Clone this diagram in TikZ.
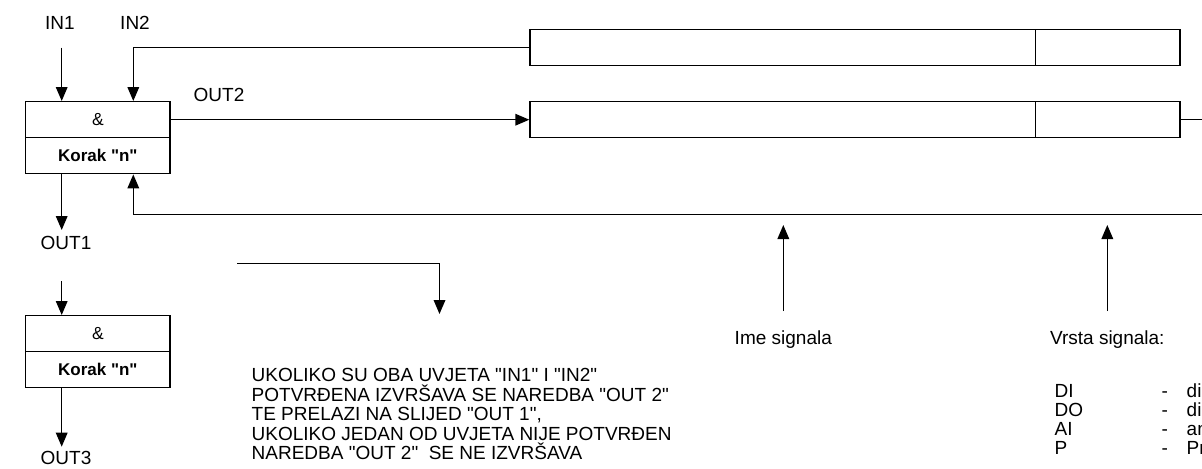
\documentclass[tikz,border=0pt]{standalone}
\usepackage{fontspec}
\setmainfont{Liberation Sans}[Ligatures=TeXOff]
\usetikzlibrary{arrows.meta}
\begin{document}
\begin{tikzpicture}[x=0.5pt, y=-0.5pt, line width=0.7pt,
  tip/.style={-{Triangle[length=7pt,width=5.8pt]}},
  cell/.style={draw, inner sep=0pt, minimum width=72.15pt, minimum height=18pt,
    font=\fontsize{8.75}{10}\selectfont},
  kcell/.style={cell, font=\fontsize{8.5}{10}\selectfont\bfseries},
  namefield/.style={draw, inner sep=0pt, minimum width=252.65pt, minimum height=18pt},
  typefield/.style={draw, inner sep=0pt, minimum width=72.35pt, minimum height=18pt},
  lbl/.style={inner sep=0pt, font=\fontsize{9.5}{11}\selectfont},
  txt/.style={lbl, anchor=base west},
  ctxt/.style={lbl, anchor=base},
]
\useasboundingbox (0,0) rectangle (1202,468);

% step block "n" with its two inputs and output
\node[cell]  (amp1) at (97.85,119.7) {\&};
\node[kcell] (kor1) at (97.85,155.7) {Korak "n"};
\node[lbl] (in1) at (60,23) {IN1};
\node[lbl] (in2) at (135,23) {IN2};
\node[lbl] (out2) at (219,94.5) {OUT2};
\node[lbl] (out1) at (66,243) {OUT1};

% second step block
\node[cell]  (amp2) at (97.85,333.7) {\&};
\node[kcell] (kor2) at (97.85,369.7) {Korak "n"};
\node[lbl] (out3) at (66,458) {OUT3};

% signal records: name field and type field
\node[namefield] (name1) at (782.65,47.7) {};
\node[typefield] (type1) at (1107.65,47.7) {};
\node[namefield] (name2) at (782.65,119.7) {};
\node[typefield] (type2) at (1107.65,119.7) {};

% helper columns and free ends
\coordinate (colA) at (61.7,0);
\coordinate (colB) at (133.3,0);
\coordinate (in1s) at (61.7,47.7);
\coordinate (o1) at (61.7,230);
\coordinate (i3) at (61.7,281);
\coordinate (o3) at (61.7,446.7);
\coordinate (turn) at (1240,214.3);
\coordinate (n0) at (237.3,263.3);
\coordinate (n1) at (439.5,314);
\coordinate (ia) at (783.3,311);
\coordinate (ib) at (783.3,225);
\coordinate (va) at (1107.3,311);
\coordinate (vb) at (1107.3,225);

% connectors
\draw[tip] (in1s) -- (amp1.north -| colA);
\draw[tip] (name1.west) -| (amp1.north -| colB);
\draw[tip] (amp1.east) -- (name2.west);
\draw[tip] (type2.east) -| (turn) -| (kor1.south -| colB);
\draw[tip] (kor1.south -| colA) -- (o1);
\draw[tip] (i3) -- (amp2.north -| colA);
\draw[tip] (kor2.south -| colA) -- (o3);
\draw[tip] (n0) -| (n1);
\draw[tip] (ia) -- (ib);
\draw[tip] (va) -- (vb);

% explanatory text
\node[txt] (t1) at (251,381.8) {UKOLIKO SU OBA UVJETA "IN1" I "IN2"};
\node[txt] (t2) at (251,401.3) {POTVRĐENA IZVRŠAVA SE NAREDBA "OUT 2"};
\node[txt] (t3) at (251,420.8) {TE PRELAZI NA SLIJED "OUT 1",};
\node[txt] (t4) at (251,440.3) {UKOLIKO JEDAN OD UVJETA NIJE POTVRĐEN};
\node[txt] (t5) at (251,459.8) {NAREDBA "OUT 2"\ \ SE NE IZVRŠAVA};

% field legends under the pointer arrows
\node[ctxt] (ime) at (783.3,344.8) {Ime signala};
\node[ctxt] (vrsta) at (1107.3,344.8) {Vrsta signala:};

\node[txt] (kDI) at (1054,397.8) {DI};
\node[txt] (kDO) at (1054,416.8) {DO};
\node[txt] (kAI) at (1054,435.8) {AI};
\node[txt] (kP)  at (1054,454.8) {P};
\node[txt] (dDI) at (1161,397.8) {-};
\node[txt] (dDO) at (1161,416.8) {-};
\node[txt] (dAI) at (1161,435.8) {-};
\node[txt] (dP)  at (1161,454.8) {-};
\node[txt] (wDI) at (1186,397.8) {di};
\node[txt] (wDO) at (1186,416.8) {di};
\node[txt] (wAI) at (1186,435.8) {an};
\node[txt] (wP)  at (1186,454.8) {Pr};
\end{tikzpicture}
\end{document}
